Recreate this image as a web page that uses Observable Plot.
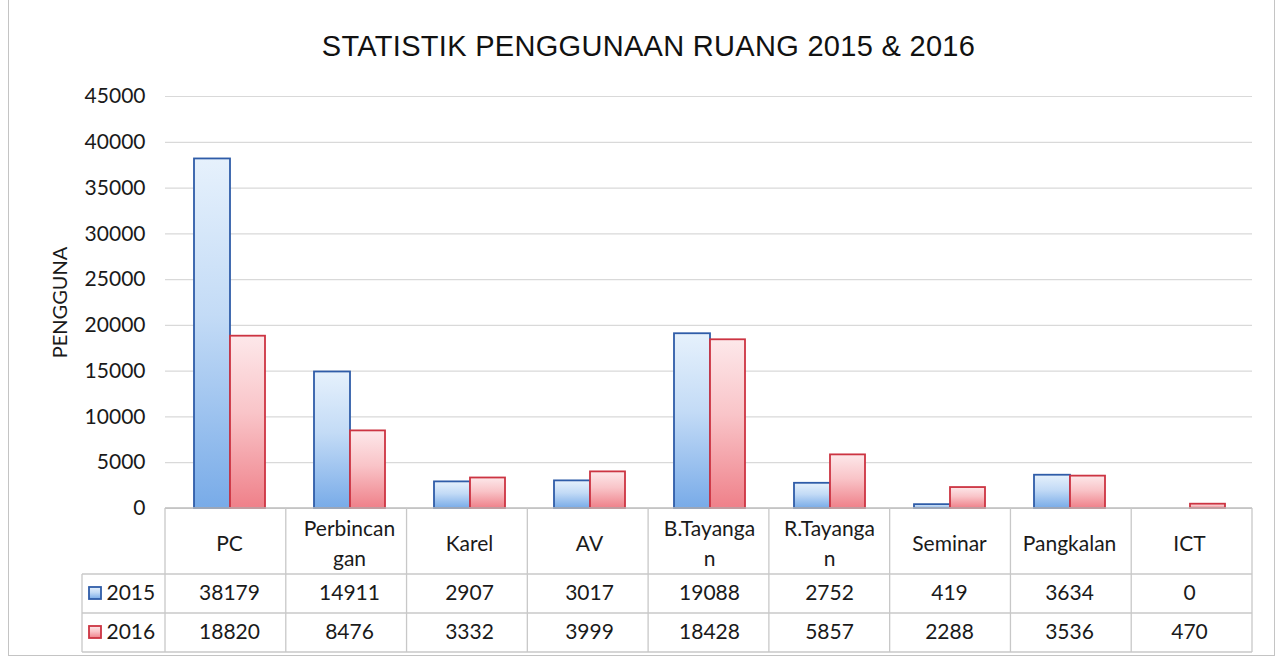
<!DOCTYPE html>
<html>
<head>
<meta charset="utf-8">
<script src="https://cdn.jsdelivr.net/npm/d3@7"></script>
<script src="https://cdn.jsdelivr.net/npm/@observablehq/plot@0.6"></script>
<style>
  html, body { margin: 0; padding: 0; background: #fff; width: 1285px; height: 658px; overflow: hidden; }
  #frame { position: absolute; left: 8px; top: -2px; width: 1267px; height: 658px; border: 1px solid #c4c4c4; box-sizing: border-box; }
  #title { position: absolute; left: 0; top: 32px; width: 1285px; padding-left: 12px; box-sizing: border-box; text-align: center;
           font-family: "Liberation Sans", Arial, sans-serif; font-size: 29px; line-height: 29px; letter-spacing: 0.3px; color: #111; }
  #chart { position: absolute; left: 0; top: 78px; }
</style>
</head>
<body>
<div id="frame"></div>
<div id="title">STATISTIK PENGGUNAAN RUANG 2015 &amp; 2016</div>
<div id="chart"></div>
<script>
const categories = ["PC", "Perbincangan", "Karel", "AV", "B.Tayangan", "R.Tayangan", "Seminar", "Pangkalan", "ICT"];
const headerLabels = ["PC", "Perbincan\ngan", "Karel", "AV", "B.Tayanga\nn", "R.Tayanga\nn", "Seminar", "Pangkalan", "ICT"];
const values2015 = [38179, 14911, 2907, 3017, 19088, 2752, 419, 3634, 0];
const values2016 = [18820, 8476, 3332, 3999, 18428, 5857, 2288, 3536, 470];
const seriesNames = ["2015", "2016"];
const yTicks = [0, 5000, 10000, 15000, 20000, 25000, 30000, 35000, 40000, 45000];
const yLabel = "PENGGUNA";

const d15 = categories.map((c, i) => ({cat: c, v: values2015[i]}));
const d16 = categories.map((c, i) => ({cat: c, v: values2016[i]}));

const font = "Lato, 'Open Sans', sans-serif";
const fs = 21;
const ink = "#1a1a1a";

const plot = Plot.plot({
  width: 1285,
  height: 580,
  marginTop: 18,
  marginLeft: 165,
  marginRight: 33,
  marginBottom: 150,
  style: {fontFamily: font, fontSize: fs + "px", color: ink, background: "transparent", overflow: "visible"},
  x: {domain: categories, padding: 0, axis: null},
  y: {domain: [0, 45000]},
  marks: [
    Plot.gridY(yTicks, {stroke: "#d9d9d9", strokeOpacity: 1, strokeWidth: 1.2}),
    Plot.axisY(yTicks, {tickSize: 0, tickPadding: 20, label: null, tickFormat: d => String(d), fontSize: fs, fill: ink}),
    Plot.barY(d15, {x: "cat", y: "v", fill: "url(#gradBlue)", stroke: "#2f5ca8", strokeWidth: 1.8, insetLeft: 25, insetRight: 59}),
    Plot.barY(d16, {x: "cat", y: "v", fill: "url(#gradRed)", stroke: "#cc3442", strokeWidth: 1.8, insetLeft: 61, insetRight: 24}),
    Plot.text([yLabel], {frameAnchor: "left", rotate: -90, dx: -105, textAnchor: "middle", lineAnchor: "middle", fontSize: 20, fill: ink}),
    Plot.text(categories, {x: d => d, frameAnchor: "bottom", dy: 33, lineAnchor: "middle", text: (d, i) => headerLabels[i], lineHeight: 1.43, fontSize: fs, fill: ink}),
    Plot.text(categories, {x: d => d, frameAnchor: "bottom", dy: 85, lineAnchor: "middle", text: (d, i) => String(values2015[i]), fontSize: fs, fill: ink}),
    Plot.text(categories, {x: d => d, frameAnchor: "bottom", dy: 124, lineAnchor: "middle", text: (d, i) => String(values2016[i]), fontSize: fs, fill: ink}),
    Plot.text([seriesNames[0]], {frameAnchor: "bottom-left", dx: -59, dy: 85, lineAnchor: "middle", textAnchor: "start", fontSize: fs, fill: ink}),
    Plot.text([seriesNames[1]], {frameAnchor: "bottom-left", dx: -59, dy: 124, lineAnchor: "middle", textAnchor: "start", fontSize: fs, fill: ink})
  ]
});

document.getElementById("chart").appendChild(plot);

// gradients + table grid built from the plot's scales
const svg = d3.select(plot);
const defs = svg.insert("defs", ":first-child");
function grad(id, stops) {
  const g = defs.append("linearGradient").attr("id", id).attr("x1", 0).attr("y1", 0).attr("x2", 0).attr("y2", 1);
  stops.forEach(([o, c]) => g.append("stop").attr("offset", o).attr("stop-color", c));
}
grad("gradBlue", [[0, "#e6f1fc"], [0.45, "#c3dbf6"], [1, "#78abe8"]]);
grad("gradRed", [[0, "#fde8ea"], [0.45, "#f9c4c8"], [1, "#ef8089"]]);

const xs = plot.scale("x"), ys = plot.scale("y");
const [r0, r1] = xs.range;
const n = categories.length;
const step = (r1 - r0) / n;
const y0 = ys.apply(0);
const rowTop1 = y0 + 66, rowTop2 = y0 + 105, rowBot = y0 + 144;
const legendLeft = r0 - 83;
const g = svg.append("g").attr("stroke", "#c8c8c8").attr("stroke-width", 1.3).attr("fill", "none");
g.append("line").attr("x1", r0).attr("x2", r1).attr("y1", y0).attr("y2", y0).attr("stroke", "#bdbdbd");
[rowTop1, rowTop2, rowBot].forEach(yy => g.append("line").attr("x1", legendLeft).attr("x2", r1).attr("y1", yy).attr("y2", yy));
for (let i = 0; i <= n; i++) {
  const xx = r0 + i * step;
  g.append("line").attr("x1", xx).attr("x2", xx).attr("y1", y0).attr("y2", rowBot);
}
g.append("line").attr("x1", legendLeft).attr("x2", legendLeft).attr("y1", rowTop1).attr("y2", rowBot);
const keyX = legendLeft + 7;
[[rowTop1, "url(#gradBlue)", "#2f5ca8"], [rowTop2, "url(#gradRed)", "#cc3442"]].forEach(([top, f, s]) => {
  svg.append("rect").attr("x", keyX).attr("y", top + 13).attr("width", 12).attr("height", 12)
    .attr("fill", f).attr("stroke", s).attr("stroke-width", 1.8);
});
</script>
</body>
</html>
